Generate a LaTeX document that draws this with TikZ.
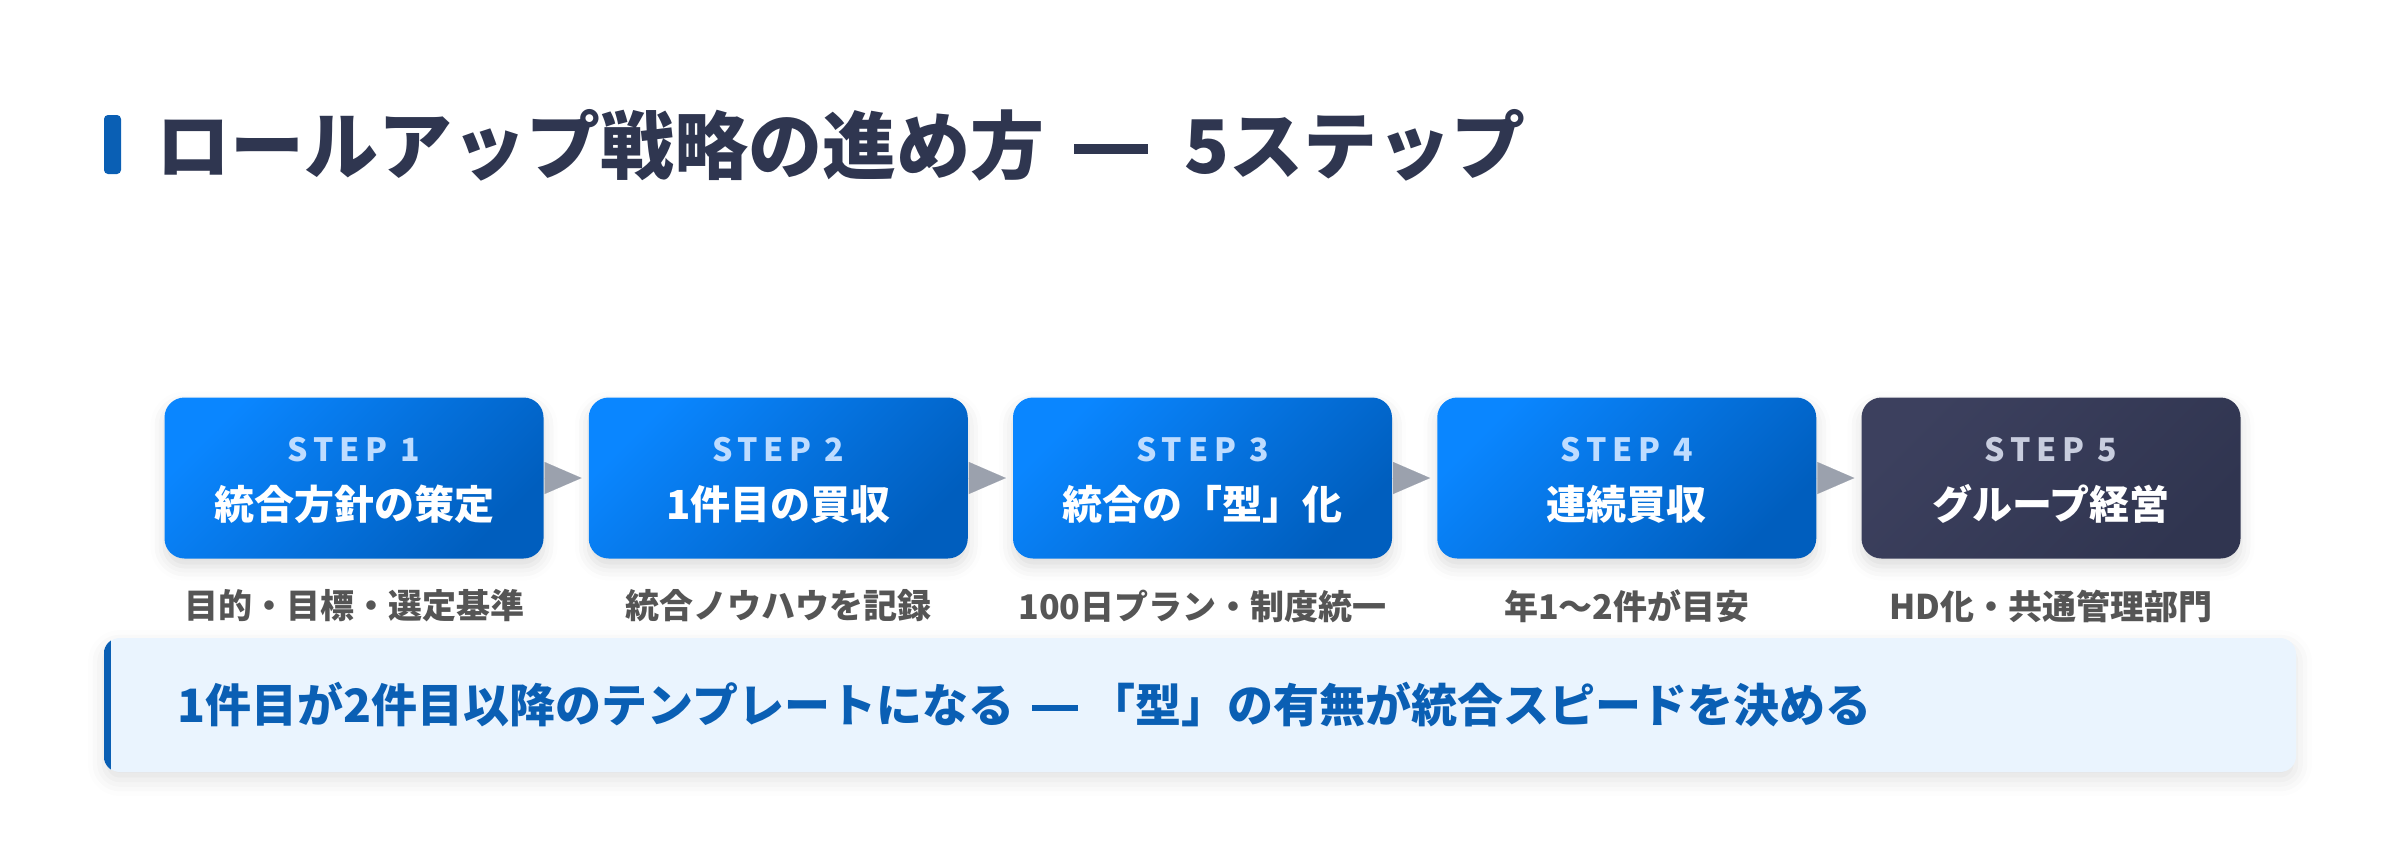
\documentclass[tikz,border=0pt]{standalone}
\usepackage{fontspec}
\setmainfont{Noto Sans CJK JP}
\usepackage{tikz}
\usetikzlibrary{arrows.meta,shapes,calc,shadows,shadows.blur}

\definecolor{titlenavy}{RGB}{47,54,80}
\definecolor{barblue}{RGB}{10,95,180}
\definecolor{stepA}{RGB}{10,134,255}
\definecolor{stepB}{RGB}{0,94,190}
\definecolor{darkA}{RGB}{60,64,94}
\definecolor{darkB}{RGB}{48,53,80}
\definecolor{tagblue}{RGB}{190,220,255}
\definecolor{taggray}{RGB}{200,205,222}
\definecolor{notegray}{RGB}{85,85,85}
\definecolor{arrowgray}{RGB}{155,161,173}
\definecolor{calloutbg}{RGB}{234,244,254}

\newcommand{\longbar}[1]{\hspace{0.4em}\rule[0.26em]{1em}{0.13em}\hspace{#1}}

\begin{document}
\begin{tikzpicture}[x=1pt,y=-1pt]
\tikzstyle{main}=[rectangle, rounded corners=20pt, minimum width=379pt, minimum height=161pt, inner sep=0pt, node distance=424.25pt,
  blur shadow={shadow xshift=0pt, shadow yshift=-8pt, shadow blur radius=14pt, shadow opacity=14}]
\tikzstyle{stepbox}=[main, top color=stepA, bottom color=stepB, shading angle=45]
\tikzstyle{lastbox}=[main, top color=darkA, bottom color=darkB, shading angle=45]
\tikzstyle{tag}=[text=tagblue, font=\fontsize{32}{36}\selectfont\bfseries\addfontfeature{LetterSpace=18}]
\tikzstyle{label}=[text=white, font=\fontsize{40}{46}\selectfont\bfseries]
\tikzstyle{note}=[text=notegray, font=\fontsize{34}{38}\selectfont\bfseries, node distance=128pt]
\tikzstyle{connect}=[-{Triangle[length=37pt,width=32pt]}, draw=arrowgray, fill=arrowgray, line width=0.01pt, shorten >=7pt]

\useasboundingbox (0,0) rectangle (2400,860);

  \fill[barblue, rounded corners=4pt] (104,115) rectangle (121,174);
  \node[anchor=west, inner sep=0pt, text=titlenavy, font=\fontsize{74}{84}\selectfont\bfseries] (title) at (156,145) {ロールアップ戦略の進め方\longbar{0.5em}5ステップ};

  \node[stepbox] (s1) at (354,478) {};
  \node[stepbox] (s2) [right of=s1] {};
  \node[stepbox] (s3) [right of=s2] {};
  \node[stepbox] (s4) [right of=s3] {};
  \node[lastbox] (s5) [right of=s4] {};

  \path (s1) edge [connect] (s2)
        (s2) edge [connect] (s3)
        (s3) edge [connect] (s4)
        (s4) edge [connect] (s5);

  \node[tag] (t1) at ([yshift=28pt]s1.center) {STEP 1};
  \node[tag] (t2) at ([yshift=28pt]s2.center) {STEP 2};
  \node[tag] (t3) at ([yshift=28pt]s3.center) {STEP 3};
  \node[tag] (t4) at ([yshift=28pt]s4.center) {STEP 4};
  \node[tag, text=taggray] (t5) at ([yshift=28pt]s5.center) {STEP 5};

  \node[label] (l1) at ([yshift=-26pt]s1.center) {統合方針の策定};
  \node[label] (l2) at ([yshift=-26pt]s2.center) {1件目の買収};
  \node[label] (l3) at ([yshift=-26pt]s3.center) {統合の「型」化};
  \node[label] (l4) at ([yshift=-26pt]s4.center) {連続買収};
  \node[label] (l5) at ([yshift=-26pt]s5.center) {グループ経営};

  \node[note] (n1) [below of=s1] {目的・目標・選定基準};
  \node[note] (n2) [below of=s2] {統合ノウハウを記録};
  \node[note] (n3) [below of=s3] {100日プラン・制度統一};
  \node[note] (n4) [below of=s4] {年1〜2件が目安};
  \node[note] (n5) [below of=s5] {HD化・共通管理部門};

  \node[rectangle, rounded corners=16pt, minimum width=2192pt, minimum height=134pt, fill=calloutbg,
    blur shadow={shadow xshift=0pt, shadow yshift=-8pt, shadow blur radius=16pt, shadow opacity=12}] (call) at (1200,705) {};
  \begin{scope}
    \clip[rounded corners=16pt] (call.north west) rectangle (call.south east);
    \fill[barblue] (call.north west) rectangle ([xshift=7pt]call.south west);
  \end{scope}
  \node[anchor=west, text=barblue, font=\fontsize{46}{52}\selectfont\bfseries] (msg) at ([xshift=70pt]call.west) {1件目が2件目以降のテンプレートになる\longbar{0.24em}「型」の有無が統合スピードを決める};

\end{tikzpicture}
\end{document}
